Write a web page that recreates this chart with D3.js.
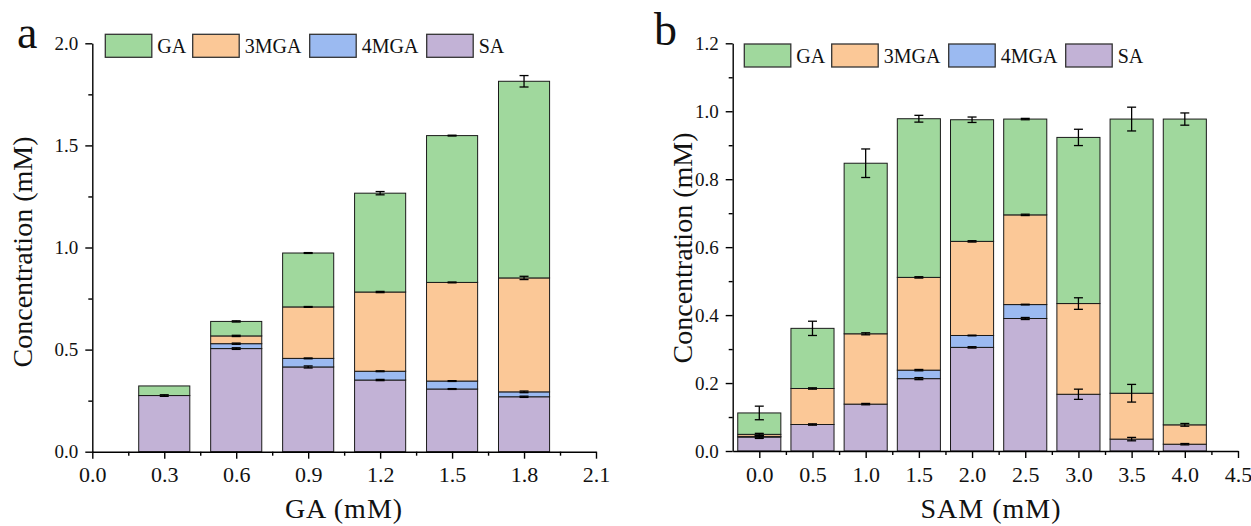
<!DOCTYPE html>
<html><head><meta charset="utf-8">
<script src="https://cdn.jsdelivr.net/npm/d3@7"></script>
<style>
html,body{margin:0;padding:0;background:#fff;}
text{font-family:"Liberation Serif","Times New Roman",serif;fill:#111;}
</style></head>
<body>
<svg id="chart" width="1251" height="526"></svg>
<script>
// ---------- DATA ----------
const seriesKeys = ["SA", "4MGA", "3MGA", "GA"];          // stacking order (bottom -> top)
const legendKeys = ["GA", "3MGA", "4MGA", "SA"];
const seriesColors = {GA:"#A0D89D", "3MGA":"#FBC897", "4MGA":"#9BBAF1", SA:"#C2B2D6"};

// Panel a: GA (mM)
const xA = [0.3, 0.6, 0.9, 1.2, 1.5, 1.8];
const saA    = [0.275, 0.505, 0.415, 0.351, 0.307, 0.269];
const mga4A  = [0.000, 0.024, 0.042, 0.043, 0.039, 0.024];
const mga3A  = [0.000, 0.038, 0.252, 0.388, 0.483, 0.558];
const gaA    = [0.047, 0.071, 0.264, 0.484, 0.719, 0.963];
const saErrA   = [0.004, 0.004, 0.005, 0.003, 0.002, 0.003];
const mga4ErrA = [0.000, 0.003, 0.002, 0.002, 0.002, 0.004];
const mga3ErrA = [0.000, 0.003, 0.002, 0.003, 0.002, 0.008];
const gaErrA   = [0.000, 0.003, 0.002, 0.008, 0.002, 0.028];
const xTicksA = [0.0, 0.3, 0.6, 0.9, 1.2, 1.5, 1.8, 2.1];
const yTicksA = [0.0, 0.5, 1.0, 1.5, 2.0];

// Panel b: SAM (mM)
const xB = [0.0, 0.5, 1.0, 1.5, 2.0, 2.5, 3.0, 3.5, 4.0];
const saB    = [0.041, 0.078, 0.138, 0.213, 0.305, 0.390, 0.167, 0.035, 0.020];
const mga4B  = [0.002, 0.000, 0.000, 0.025, 0.035, 0.041, 0.000, 0.000, 0.000];
const mga3B  = [0.006, 0.106, 0.207, 0.273, 0.277, 0.264, 0.267, 0.135, 0.057];
const gaB    = [0.063, 0.177, 0.502, 0.467, 0.358, 0.282, 0.489, 0.807, 0.900];
const saErrB   = [0.004, 0.002, 0.002, 0.003, 0.002, 0.003, 0.015, 0.005, 0.002];
const mga4ErrB = [0.002, 0.000, 0.000, 0.002, 0.001, 0.001, 0.000, 0.000, 0.000];
const mga3ErrB = [0.003, 0.002, 0.003, 0.002, 0.002, 0.002, 0.017, 0.026, 0.004];
const gaErrB   = [0.020, 0.021, 0.042, 0.010, 0.008, 0.002, 0.024, 0.035, 0.018];
const xTicksB = [0.0, 0.5, 1.0, 1.5, 2.0, 2.5, 3.0, 3.5, 4.0, 4.5];
const yTicksB = [0.0, 0.2, 0.4, 0.6, 0.8, 1.0, 1.2];

// ---------- DRAW ----------
const svg = d3.select("#chart");
const fmt = d3.format(".1f");

function drawPanel(p) {
  const g = svg.append("g");
  const x = d3.scaleLinear().domain(p.xDomain).range([p.left, p.right]);
  const y = d3.scaleLinear().domain(p.yDomain).range([p.bottom, p.top]);

  const rows = p.cats.map((c, i) => ({
    cat: c, SA: p.vals.SA[i], "4MGA": p.vals["4MGA"][i], "3MGA": p.vals["3MGA"][i], GA: p.vals.GA[i]
  }));
  const stacked = d3.stack().keys(seriesKeys)(rows);
  const bw = x(p.barWidth) - x(0);

  // bars
  stacked.forEach(layer => {
    g.append("g").selectAll("rect").data(layer.filter(d => d[1] - d[0] > 0)).join("rect")
      .attr("x", d => x(d.data.cat) - bw / 2)
      .attr("width", bw)
      .attr("y", d => y(d[1]))
      .attr("height", d => y(d[0]) - y(d[1]))
      .attr("fill", seriesColors[layer.key])
      .attr("stroke", "#1a1a1a")
      .attr("stroke-width", 1);
  });

  // error bars
  stacked.forEach(layer => {
    const errs = p.errs[layer.key];
    layer.forEach((d, i) => {
      const e = errs[i];
      if (!(e > 0) || d[1] - d[0] <= 0) return;
      const cx = x(d.data.cat), y1 = y(d[1] + e), y2 = y(d[1] - e);
      const eg = g.append("g").attr("stroke", "#000").attr("stroke-width", 1.3);
      eg.append("line").attr("x1", cx).attr("x2", cx).attr("y1", y1).attr("y2", y2);
      eg.append("line").attr("x1", cx - 4.5).attr("x2", cx + 4.5).attr("y1", y1).attr("y2", y1);
      eg.append("line").attr("x1", cx - 4.5).attr("x2", cx + 4.5).attr("y1", y2).attr("y2", y2);
    });
  });

  // axes
  const xMinor = d3.range(p.xDomain[0], p.xDomain[1] + 1e-9, p.xMinorStep)
    .filter(v => !p.xTicks.some(t => Math.abs(t - v) < 1e-6) && v > p.xDomain[0] + 1e-6);
  const yMinor = d3.range(p.yDomain[0], p.yDomain[1] + 1e-9, p.yMinorStep)
    .filter(v => !p.yTicks.some(t => Math.abs(t - v) < 1e-6));

  const xa = g.append("g").attr("transform", `translate(0,${p.bottom})`)
    .call(d3.axisBottom(x).tickValues(p.xTicks).tickFormat(fmt).tickSize(7).tickPadding(8).tickSizeOuter(0));
  xa.selectAll("text").style("font-size", "22px").style("font-family", "Liberation Serif");
  const xm = g.append("g").attr("transform", `translate(0,${p.bottom})`)
    .call(d3.axisBottom(x).tickValues(xMinor).tickFormat("").tickSize(4).tickSizeOuter(0));
  xm.select(".domain").remove();

  const ya = g.append("g").attr("transform", `translate(${p.left},0)`)
    .call(d3.axisLeft(y).tickValues(p.yTicks).tickFormat(fmt).tickSize(7).tickPadding(7).tickSizeOuter(0));
  ya.selectAll("text").style("font-size", "19px").style("font-family", "Liberation Serif");
  const ym = g.append("g").attr("transform", `translate(${p.left},0)`)
    .call(d3.axisLeft(y).tickValues(yMinor).tickFormat("").tickSize(4).tickSizeOuter(0));
  ym.select(".domain").remove();

  g.selectAll(".domain, .tick line").attr("stroke", "#000").attr("stroke-width", 1.4);
  g.selectAll(".tick text").attr("fill", "#111");

  // axis titles
  g.append("text").attr("x", p.xTitleX).attr("y", 518).attr("text-anchor", "middle")
    .style("font-size", "28px").style("letter-spacing", "1px").text(p.xTitle);
  g.append("text").attr("transform", `translate(${p.yTitleX},${p.yTitleY}) rotate(-90)`)
    .attr("text-anchor", "middle").style("font-size", "28px").text("Concentration (mM)");

  // panel letter
  g.append("text").attr("x", p.letterX).attr("y", p.letterY).style("font-size", "46px").text(p.letter);

  // legend
  const lg = g.append("g").attr("transform", `translate(${p.legX},${p.legY})`);
  let off = 0;
  legendKeys.forEach(k => {
    const it = lg.append("g").attr("transform", `translate(${off},0)`);
    it.append("rect").attr("width", 46.5).attr("height", 23).attr("fill", seriesColors[k])
      .attr("stroke", "#333").attr("stroke-width", 1.3);
    it.append("text").attr("x", 52).attr("y", 19).style("font-size", "20px").text(k);
    off += (k === "GA") ? 87.4 : 117;
  });
}

drawPanel({
  cats: xA, vals: {SA: saA, "4MGA": mga4A, "3MGA": mga3A, GA: gaA},
  errs: {SA: saErrA, "4MGA": mga4ErrA, "3MGA": mga3ErrA, GA: gaErrA},
  xDomain: [0, 2.1], yDomain: [0, 2.0], left: 92.3, right: 596, top: 43.3, bottom: 451.7,
  xTicks: xTicksA, yTicks: yTicksA, xMinorStep: 0.15, yMinorStep: 0.25, barWidth: 0.213,
  xTitle: "GA (mM)", xTitleX: 344, yTitleX: 32, yTitleY: 252,
  letter: "a", letterX: 17, letterY: 48, legX: 105.3, legY: 34.3
});
drawPanel({
  cats: xB, vals: {SA: saB, "4MGA": mga4B, "3MGA": mga3B, GA: gaB},
  errs: {SA: saErrB, "4MGA": mga4ErrB, "3MGA": mga3ErrB, GA: gaErrB},
  xDomain: [-0.25, 4.5], yDomain: [0, 1.2], left: 732.7, right: 1238, top: 43.3, bottom: 451,
  xTicks: xTicksB, yTicks: yTicksB, xMinorStep: 0.25, yMinorStep: 0.1, barWidth: 0.405,
  xTitle: "SAM (mM)", xTitleX: 991, yTitleX: 692, yTitleY: 248,
  letter: "b", letterX: 654, letterY: 45, legX: 744.3, legY: 44
});
</script>
</body></html>
